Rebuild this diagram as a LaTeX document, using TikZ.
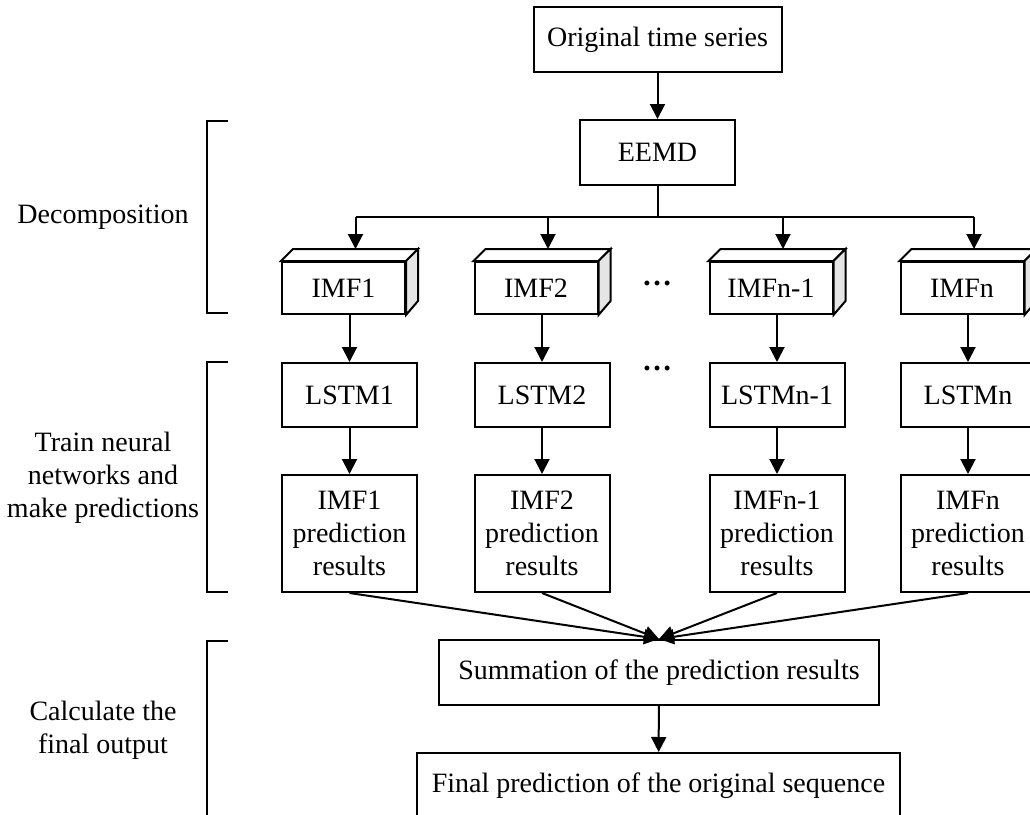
\documentclass[tikz,border=0pt]{standalone}
\usepackage{fontspec}
\setmainfont{Liberation Serif}
\usetikzlibrary{arrows.meta,calc,positioning}

\begin{document}
\begin{tikzpicture}[x=0.5pt,y=-0.5pt,
  every node/.style={font=\fontsize{14}{16.5}\selectfont},
  box/.style={draw,line width=1pt,fill=white,align=center,inner sep=0pt},
  imfbox/.style={box,minimum width=61.5pt,minimum height=26pt},
  lstmbox/.style={box,minimum width=67.5pt,minimum height=32pt},
  predbox/.style={box,minimum width=67.5pt,minimum height=58.5pt},
  arr/.style={line width=1pt,-{Triangle[length=7.5pt,width=7.5pt]}},
  brace/.style={line width=1pt}]
  \useasboundingbox (0,0) rectangle (1030,815);
  \clip (0,0) rectangle (1030,815);

  \node[box,minimum width=124pt,minimum height=32.5pt] (orig) at (657.5,39.5) {Original time series};
  \node[box,minimum width=77.5pt,minimum height=32.5pt] (eemd) at (657.5,152.5) {EEMD};
  \draw[arr] (orig) -- (eemd);
  \coordinate (split) at (657.5,217);
  \draw[brace] (eemd) -- (split);

  \foreach \i/\xc/\lab in {1/349.5/1,2/542/2,3/777/n-1,4/968/n}{
    \node[imfbox] (imf\i) at (\xc-6,288) {IMF\lab};
    \draw[line width=1pt,fill=white] (imf\i.north west) -- ++(12,-12)
      -- ($(imf\i.north east)+(12,-12)$) -- (imf\i.north east) -- cycle;
    \draw[line width=1pt,fill=gray!20] (imf\i.north east) -- ++(12,-12)
      -- ++(0,52) -- (imf\i.south east) -- cycle;
    \coordinate (t\i) at ($(imf\i.north)+(12,-12)$);
    \node[lstmbox] (lstm\i) at (\xc,395) {LSTM\lab};
    \node[predbox] (pred\i) at (\xc,533.5) {IMF\lab\\prediction\\results};
    \draw[arr] (t\i |- split) -- (t\i);
    \draw[arr] (imf\i.south -| lstm\i.north) -- (lstm\i.north);
    \draw[arr] (lstm\i) -- (pred\i);
  }
  \draw[brace] (t1 |- split) -- (t4 |- split);

  \node[font=\fontsize{15}{16}\selectfont\bfseries] (dots1) at (657,283) {…};
  \node[font=\fontsize{15}{16}\selectfont\bfseries] (dots2) at (657,368) {…};

  \node[box,minimum width=220pt,minimum height=32.5pt] (sum) at (659,672.5) {Summation of the prediction results};
  \node[box,minimum width=241.5pt,minimum height=32.5pt] (final) at (658.5,785.5) {Final prediction of the original sequence};
  \foreach \i in {1,...,4}
    \draw[arr] (pred\i.south) -- (sum.north);
  \draw[arr] (sum) -- (final);

  \node[align=center] (lab1) at (103,217) {Decomposition};
  \node[align=center] (lab2) at (103,478) {Train neural\\networks and\\make predictions};
  \node[align=center] (lab3) at (103,730) {Calculate the\\final output};

  \draw[brace] (228,121) -| (207,313) -- (228,313);
  \draw[brace] (228,362) -| (207,592) -- (228,592);
  \draw[brace] (228,641) -| (207,840);
\end{tikzpicture}
\end{document}
